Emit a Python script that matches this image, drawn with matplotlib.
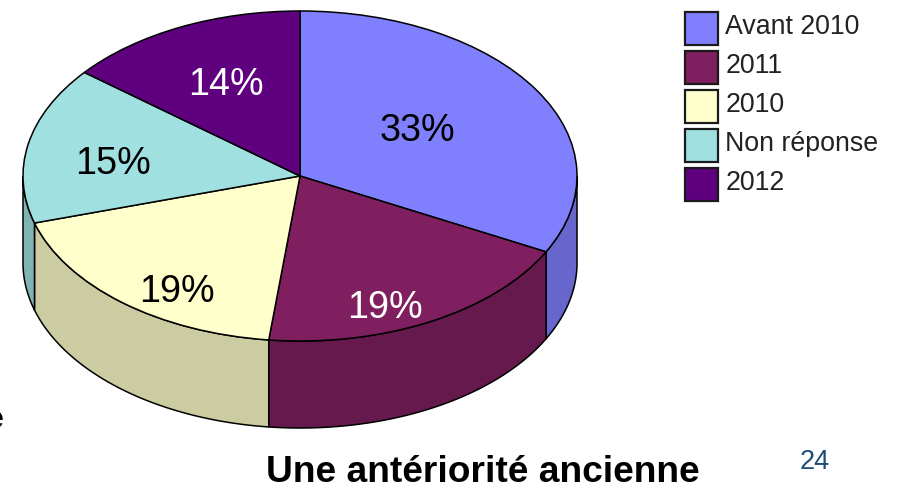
import numpy as np
import matplotlib
matplotlib.use("Agg")
import matplotlib.pyplot as plt
from matplotlib.patches import Polygon

categories = ["Avant 2010", "2011", "2010", "Non réponse", "2012"]
values = [32.6, 19.2, 18.6, 15.4, 14.2]
pct_labels = ["33%", "19%", "19%", "15%", "14%"]
colors = ["#8080ff", "#7f1f5f", "#ffffcc", "#a0e0e0", "#5f007f"]
side_colors = ["#6666cc", "#66194c", "#cccca3", "#80b3b3", "#4c0066"]
label_colors = ["black", "white", "black", "black", "white"]
title = "Une antériorité ancienne"
page_number = "24"

W, H = 897, 488
CX, CY, RX, RY, DEPTH = 300, 176, 277, 165, 87
label_px = [(417, 131), (385, 308), (177, 292), (113, 164), (226, 85)]

plt.rcParams["font.family"] = ["Liberation Sans", "DejaVu Sans"]
fig = plt.figure(figsize=(W / 100, H / 100), dpi=100, facecolor="white")
ax = fig.add_axes([0, 0, 1, 1])

def X(px):
    return (px - CX) / RX

def Y(py):
    return (CY - py) / RY

wedges, _ = ax.pie(values, colors=colors, startangle=90, counterclock=False, radius=1,
                   center=(0, 0), wedgeprops=dict(edgecolor="black", linewidth=1.1, zorder=3))
ax.set_aspect("auto")
ax.set_xlim(X(0), X(W))
ax.set_ylim(Y(H), Y(0))
ax.axis("off")

# side wall of the disc, from the same values
d = DEPTH / RY
edges = np.cumsum([0] + values) / sum(values) * 2 * np.pi
for t0, t1, c in zip(edges[:-1], edges[1:], side_colors):
    a, b = max(t0, np.pi / 2), min(t1, 3 * np.pi / 2)
    if a >= b:
        continue
    t = np.linspace(a, b, 100)
    top = np.column_stack([np.sin(t), np.cos(t)])
    bot = top[::-1] - [0, d]
    ax.add_patch(Polygon(np.vstack([top, bot]), closed=True, facecolor=c,
                         edgecolor="black", linewidth=1.1, zorder=2))

for (px, py), s, c in zip(label_px, pct_labels, label_colors):
    ax.text(X(px), Y(py), s, color=c, fontsize=27.2, ha="center", va="center", zorder=5)

leg = ax.legend(wedges, categories, loc="upper left", bbox_to_anchor=(685 / W, 1 - 11 / H),
                bbox_transform=fig.transFigure, frameon=False, fontsize=19.3,
                handlelength=1.23, handleheight=1.23, handletextpad=0.27,
                labelspacing=0.37, borderpad=0, borderaxespad=0)
for t in leg.get_texts():
    t.set_color("#222222")
for h in leg.get_patches():
    h.set_height(33 / 100 * 72)
    h.set_y(-7.9)
    h.set_linewidth(1.6)
    h.set_edgecolor("#1a1a1a")

fig.text(483 / W, 1 - 472 / H, title, fontsize=26.7, fontweight="bold", ha="center", va="center", color="black")
fig.text(815 / W, 1 - 462 / H, page_number, fontsize=19.5, ha="center", va="center", color="#1f4e79")
fig.text(-14 / W, 1 - 420 / H, "e", fontsize=23, fontweight="bold", ha="left", va="center", color="black")

fig.savefig("out.png", dpi=100, facecolor="white")
